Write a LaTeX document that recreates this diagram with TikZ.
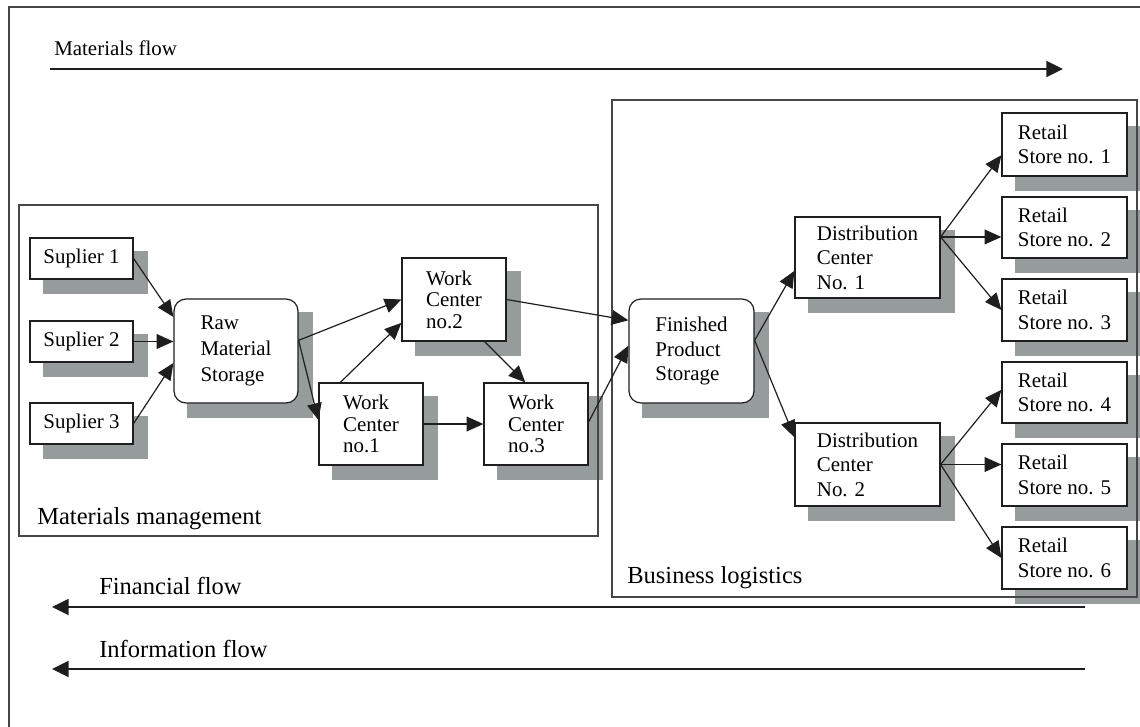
\documentclass[tikz,border=0pt]{standalone}
\usepackage{fontspec}
\setmainfont{Liberation Serif}
\usetikzlibrary{fit,arrows.meta,calc,backgrounds}
\definecolor{shadowc}{RGB}{150,155,155}
\definecolor{linec}{RGB}{30,30,30}
\definecolor{framec}{RGB}{70,70,70}
\tikzset{
  sz/.style 2 args={minimum width=#1*0.75pt, minimum height=#2*0.75pt},
  box/.style={draw=linec, line width=0.9pt, fill=white, inner sep=0pt, align=left,
    font=\fontsize{15.7}{18.3}\selectfont},
  rbox/.style={box, rounded corners=9pt},
  wbox/.style={box, font=\fontsize{15.7}{16.2}\selectfont},
  frame/.style={draw=framec, line width=1.1pt, inner sep=0pt},
  conn/.style={draw=linec, line width=0.9pt, -{Triangle[length=12.5pt,width=11pt]}},
  flow/.style={draw=linec, line width=1.3pt, -{Triangle[length=12.5pt,width=12pt]}},
  lbl/.style={inner sep=0pt, anchor=west, font=\fontsize{18.4}{22}\selectfont},
  slbl/.style={inner sep=0pt, anchor=west, font=\fontsize{15.7}{18}\selectfont}
}
\begin{document}
\begin{tikzpicture}[x=0.75pt,y=-0.75pt]
\useasboundingbox (0,0) rectangle (1140,726);
\clip (0,0) rectangle (1140,726);
% outer frame
\draw[framec, line width=1.1pt] (1160,7) -- (9,7) -- (9,740);

% nodes
\node[box, sz={103}{41}] (s1) at (81.5,258.5) {Suplier 1};
\node[box, sz={103}{41}] (s2) at (81.5,341.5) {Suplier 2};
\node[box, sz={103}{41}] (s3) at (81.5,423.5) {Suplier 3};
\node[rbox, sz={124}{104}, font=\fontsize{15.7}{19.5}\selectfont] (raw) at (236,351) {Raw\\Material\\Storage};
\node[wbox, sz={104}{83}] (wc2) at (454,299.5) {Work\\Center\\no.2};
\node[wbox, sz={104}{82}] (wc1) at (371,424) {Work\\Center\\no.1};
\node[wbox, sz={104}{82}] (wc3) at (536,424) {Work\\Center\\no.3};
\node[rbox, sz={125}{104}] (fps) at (691.5,351) {Finished\\Product\\Storage};
\node[box, sz={145}{81}] (dc1) at (867.5,257.5) {Distribution\\Center\\No. 1};
\node[box, sz={145}{83}] (dc2) at (867.5,464.5) {Distribution\\Center\\No. 2};
\node[box, sz={125}{63}] (r1) at (1064.5,144.5) {Retail\\Store no. 1};
\node[box, sz={125}{61}] (r2) at (1064.5,227.5) {Retail\\Store no. 2};
\node[box, sz={125}{62}] (r3) at (1064.5,310) {Retail\\Store no. 3};
\node[box, sz={125}{61}] (r4) at (1064.5,392.5) {Retail\\Store no. 4};
\node[box, sz={125}{62}] (r5) at (1064.5,475) {Retail\\Store no. 5};
\node[box, sz={125}{62}] (r6) at (1064.5,558) {Retail\\Store no. 6};

% shadows
\begin{scope}[on background layer]
  \foreach \n in {s1,s2,s3,raw,wc1,wc2,wc3,fps,dc1,dc2,r1,r2,r3,r4,r5,r6}
    \fill[shadowc] ($(\n.north west)+(14,14)$) rectangle ($(\n.south east)+(14,14)$);
\end{scope}

% group frames
\node[frame, fit={(19,205)(598,536)}] (mm) {};
\node[frame, fit={(612,100)(1137,597)}] (bl) {};
\node[lbl] (mmlbl) at (37,519) {Materials management};
\node[lbl] (bllbl) at (627,578) {Business logistics};

% flows
\node[slbl] (mflbl) at (54,48) {Materials flow};
\coordinate (mf0) at (50,69);
\coordinate (mf1) at (1063,69);
\draw[flow] (mf0) -- (mf1);
\node[lbl] (fflbl) at (99,586) {Financial flow};
\coordinate (ff0) at (1085,607);
\coordinate (ff1) at (52,607);
\draw[flow] (ff0) -- (ff1);
\node[lbl] (iflbl) at (99,649) {Information flow};
\coordinate (if0) at (1085,669);
\coordinate (if1) at (52,669);
\draw[flow] (if0) -- (if1);

% connectors
\draw[conn] (s1.east) -- ([yshift=25.5pt]raw.west);
\draw[conn] (s2.east) -- (s2.east -| raw.west);
\draw[conn] (s3.east) -- ([yshift=-9pt]raw.west);
\coordinate (rawout) at ([yshift=8pt]raw.east);
\draw[conn] (rawout) -- (wc2.west);
\draw[conn] (rawout) -- ([yshift=3pt]wc1.west);
\draw[conn] ([xshift=-23pt]wc1.north) -- ([yshift=-17.5pt]wc2.west);
\draw[conn] ([xshift=23pt]wc2.south) -- ([xshift=-8pt]wc3.north);
\draw[conn] (wc1.east) -- (wc3.west);
\draw[conn] (wc2.east) -- ([yshift=23pt]fps.west);
\draw[conn] ([yshift=1.5pt]wc3.east) -- ([yshift=4pt]fps.west);
\coordinate (fpsout) at ([yshift=8pt]fps.east);
\draw[conn] (fpsout) -- ([yshift=-10pt]dc1.west);
\draw[conn] (fpsout) -- ([yshift=20.5pt]dc2.west);
\coordinate (dc1out) at ([yshift=15.4pt]dc1.east);
\draw[conn] (dc1out) -- ([yshift=-8pt]r1.west);
\draw[conn] (dc1out) -- (dc1out -| r2.west);
\draw[conn] (dc1out) -- (r3.west);
\draw[conn] (dc2.east) -- ([yshift=2pt]r4.west);
\draw[conn] (dc2.east) -- (dc2.east -| r5.west);
\draw[conn] (dc2.east) -- (r6.west);
\end{tikzpicture}
\end{document}
